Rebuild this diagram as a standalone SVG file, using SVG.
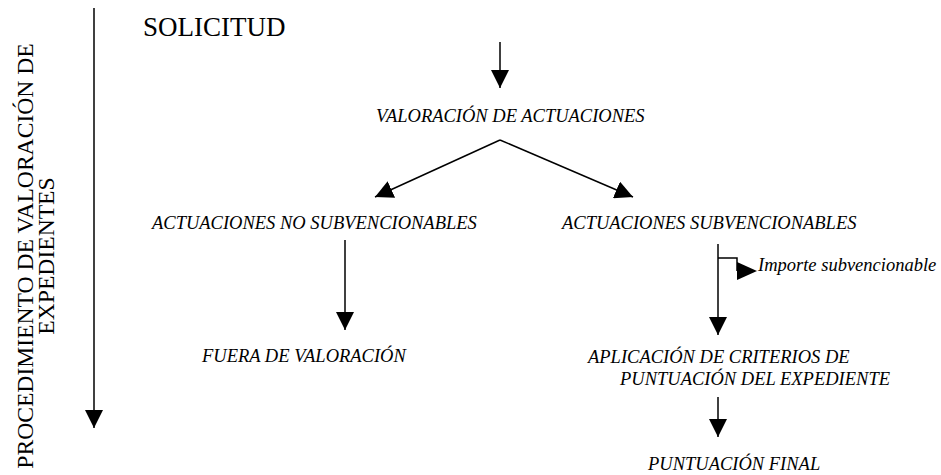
<svg xmlns="http://www.w3.org/2000/svg" width="941" height="475" viewBox="0 0 941 475">
<style>
text{font-family:'Liberation Serif','Times New Roman',Times,serif;fill:#000}
.i{font-style:italic;font-size:18.5px}
.ln{stroke:#000;stroke-width:1.5;fill:none}
</style>
<defs>
<marker id="ah" viewBox="0 0 18 18" refX="18" refY="9" markerWidth="18" markerHeight="18" markerUnits="userSpaceOnUse" orient="auto">
<path d="M0,0 L18,9 L0,18 Z" fill="#000"/>
</marker>
</defs>
<rect width="941" height="475" fill="#fff"/>
<g id="title">
<text x="0" y="0" font-size="23.6" text-anchor="middle" transform="translate(33,256) rotate(-90)">PROCEDIMIENTO DE VALORACIÓN DE</text>
<text x="0" y="0" font-size="23.6" text-anchor="middle" transform="translate(54,256) rotate(-90)">EXPEDIENTES</text>
</g>
<g id="solicitud"><text x="143" y="36" font-size="27">SOLICITUD</text></g>
<g id="valoracion"><text class="i" x="376" y="122">VALORACIÓN DE ACTUACIONES</text></g>
<g id="no-subv"><text class="i" x="152" y="229">ACTUACIONES NO SUBVENCIONABLES</text></g>
<g id="subv"><text class="i" x="562" y="229">ACTUACIONES SUBVENCIONABLES</text></g>
<g id="importe"><text class="i" x="758" y="271">Importe subvencionable</text></g>
<g id="fuera"><text class="i" x="202" y="362">FUERA DE VALORACIÓN</text></g>
<g id="aplicacion">
<text class="i" x="588" y="363">APLICACIÓN DE CRITERIOS DE</text>
<text class="i" x="620" y="385">PUNTUACIÓN DEL EXPEDIENTE</text>
</g>
<g id="final"><text class="i" x="648" y="470">PUNTUACIÓN FINAL</text></g>
<g id="connectors">
<line class="ln" x1="94" y1="8" x2="94" y2="428" marker-end="url(#ah)"/>
<line class="ln" x1="500" y1="42" x2="500" y2="88" marker-end="url(#ah)"/>
<line class="ln" x1="500" y1="140" x2="375" y2="197" marker-end="url(#ah)"/>
<line class="ln" x1="500" y1="140" x2="633" y2="197" marker-end="url(#ah)"/>
<line class="ln" x1="345" y1="240" x2="345" y2="330" marker-end="url(#ah)"/>
<line class="ln" x1="718" y1="244" x2="718" y2="335" marker-end="url(#ah)"/>
<polyline class="ln" points="718,258 737,258 737,271"/>
<polygon points="737,262 757,271 737,280" fill="#000"/>
<line class="ln" x1="718" y1="397" x2="718" y2="437" marker-end="url(#ah)"/>
</g>
</svg>
